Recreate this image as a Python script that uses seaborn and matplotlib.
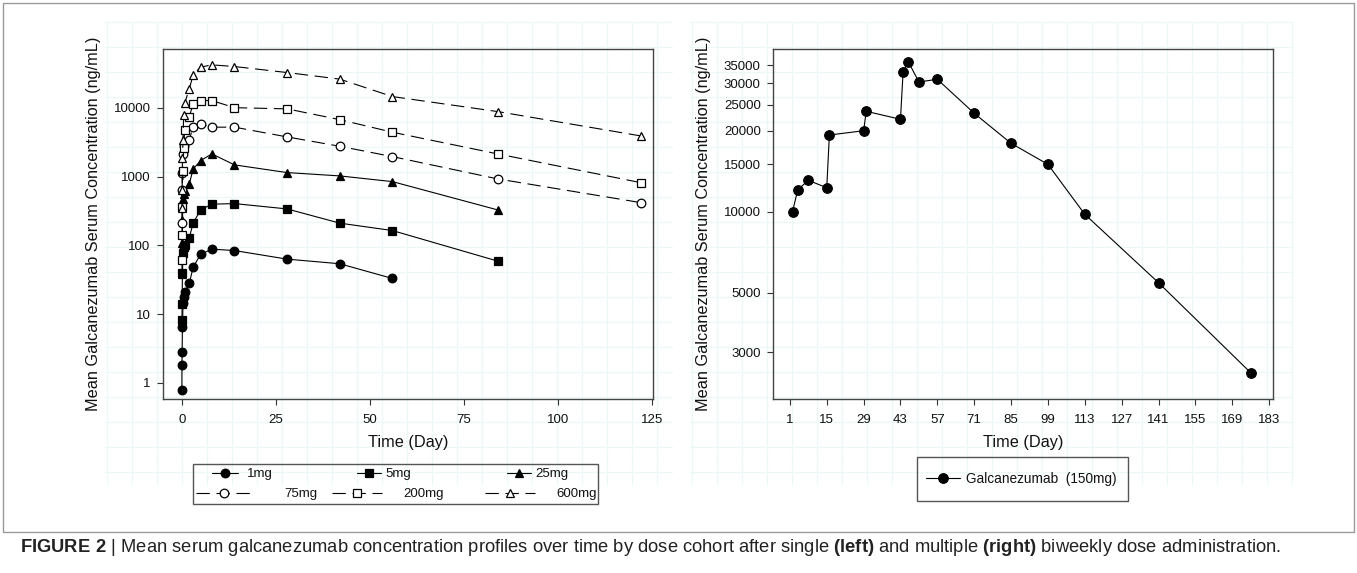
import matplotlib
matplotlib.use("Agg")
import matplotlib.pyplot as plt
from matplotlib.patches import Rectangle
from matplotlib.ticker import FixedLocator, FixedFormatter, NullLocator
import seaborn as sns
import numpy as np
import pandas as pd

sns.set_style("white")
plt.rcParams["font.family"] = ["Liberation Sans", "DejaVu Sans"]
plt.rcParams["mathtext.fontset"] = "custom"
plt.rcParams["mathtext.rm"] = "Liberation Sans"
plt.rcParams["mathtext.bf"] = "Liberation Sans:bold"

W, H = 1357, 573

# ---- data: single dose (left panel), days / ng/mL ----
t_1mg = [0.02, 0.04, 0.08, 0.17, 0.33, 0.5, 0.75, 2, 3, 5, 8, 14, 28, 42, 56]
c_1mg = [0.8, 1.8, 2.8, 6.5, 14.4, 17.6, 21, 28, 48, 74, 88, 84, 63, 54, 33]

t_5mg = [0.04, 0.08, 0.17, 0.33, 0.5, 0.75, 2, 3, 5, 8, 14, 28, 42, 56, 84]
c_5mg = [8.2, 14, 40, 77, 93, 101, 129, 210, 327, 396, 404, 338, 210, 164, 59]

t_25mg = [0.04, 0.08, 0.17, 0.33, 0.5, 0.75, 2, 3, 5, 8, 14, 28, 42, 56, 84]
c_25mg = [38, 107, 230, 468, 560, 620, 780, 1277, 1703, 2130, 1475, 1140, 1020, 843, 327]

t_75mg = [0.04, 0.08, 0.17, 0.33, 0.5, 2, 3, 5, 8, 14, 28, 42, 56, 84, 122]
c_75mg = [210, 640, 1120, 2100, 2800, 3400, 5310, 5750, 5210, 5210, 3760, 2750, 1946, 923, 418]

t_200mg = [0.04, 0.08, 0.17, 0.33, 0.5, 0.75, 2, 3, 5, 8, 14, 28, 42, 56, 84, 122]
c_200mg = [61, 142, 365, 1200, 2600, 4760, 7430, 11250, 12680, 12680, 10000, 9610, 6700, 4400, 2130, 815]

t_600mg = [0.04, 0.08, 0.17, 0.33, 0.5, 0.75, 2, 3, 5, 8, 14, 28, 42, 56, 84, 122]
c_600mg = [350, 640, 1850, 3400, 7860, 11600, 18600, 30000, 38800, 41900, 39600, 32400, 26000, 14500, 8780, 3890]

doses = ["1mg", "5mg", "25mg", "75mg", "200mg", "600mg"]
times = [t_1mg, t_5mg, t_25mg, t_75mg, t_200mg, t_600mg]
concs = [c_1mg, c_5mg, c_25mg, c_75mg, c_200mg, c_600mg]

# ---- data: multiple biweekly 150 mg (right panel) ----
day_150 = [2, 4, 8, 15, 16, 29, 30, 43, 44, 46, 50, 57, 71, 85, 99, 113, 141, 176]
conc_150 = [10000, 12070, 13080, 12280, 19280, 20000, 23620, 22060, 33130, 36070,
            30360, 31070, 23220, 17960, 15000, 9780, 5445, 2520]

left_xticks = [0, 25, 50, 75, 100, 125]
left_yticks = [1, 10, 100, 1000, 10000]
right_xticks = [1, 15, 29, 43, 57, 71, 85, 99, 113, 127, 141, 155, 169, 183]
right_yticks = [3000, 5000, 10000, 15000, 20000, 25000, 30000, 35000]

single = pd.concat(
    [pd.DataFrame({"dose": d, "day": t, "conc": c}) for d, t, c in zip(doses, times, concs)],
    ignore_index=True)
multi = pd.DataFrame({"day": day_150, "conc": conc_150})

styles = {
    "1mg": dict(marker="o", markerfacecolor="black", linestyle="-"),
    "5mg": dict(marker="s", markerfacecolor="black", linestyle="-"),
    "25mg": dict(marker="^", markerfacecolor="black", linestyle="-"),
    "75mg": dict(marker="o", markerfacecolor="white", linestyle=(0, (12, 6))),
    "200mg": dict(marker="s", markerfacecolor="white", linestyle=(0, (12, 6))),
    "600mg": dict(marker="^", markerfacecolor="white", linestyle=(0, (12, 6))),
}
msize = {"o": 6.2, "s": 5.6, "^": 6.4}

fig = plt.figure(figsize=(W / 100, H / 100), dpi=100)

# faint graph-paper background behind both panels
bg = fig.add_axes([0, 0, 1, 1], zorder=-5)
bg.set_xlim(0, W)
bg.set_ylim(H, 0)
bg.axis("off")
grid_c = "#eaf8f8"
for x0, x1 in [(105, 672), (690, 1292)]:
    for gx in np.arange(x0 + 1.7, x1, 25):
        bg.plot([gx, gx], [21.7, 484], color=grid_c, lw=0.9)
    for gy in np.arange(21.7, 485, 25):
        bg.plot([x0, x1], [gy, gy], color=grid_c, lw=0.9)


def px_axes(x0, y0, x1, y1):
    return fig.add_axes([x0 / W, 1 - y1 / H, (x1 - x0) / W, (y1 - y0) / H])


axL = px_axes(163, 49.3, 653, 399)
axR = px_axes(773.3, 49.3, 1273.3, 399)

handles = {}
axL.set_yscale("log")
for d in doses:
    st = styles[d]
    sns.lineplot(data=single[single["dose"] == d], x="day", y="conc", ax=axL,
                 color="black", linewidth=0.8, markersize=msize[st["marker"]],
                 markeredgecolor="black", markeredgewidth=0.9, errorbar=None, **st)
    handles[d] = axL.lines[-1]

axR.set_yscale("log")
sns.lineplot(data=multi, x="day", y="conc", ax=axR, color="black", linewidth=0.8,
             marker="o", markersize=7, markerfacecolor="black",
             markeredgecolor="black", errorbar=None)
h150 = axR.lines[-1]

axL.set_xlim(-5, 125.3)
axL.set_ylim(0.585, 70500)
axR.set_xlim(-5.3, 184.6)
axR.set_ylim(2012, 40160)

for ax, xt, yt in [(axL, left_xticks, left_yticks), (axR, right_xticks, right_yticks)]:
    ax.patch.set_alpha(0)
    ax.xaxis.set_major_locator(FixedLocator(xt))
    ax.xaxis.set_major_formatter(FixedFormatter([str(v) for v in xt]))
    ax.yaxis.set_major_locator(FixedLocator(yt))
    ax.yaxis.set_major_formatter(FixedFormatter([str(v) for v in yt]))
    ax.yaxis.set_minor_locator(NullLocator())
    ax.xaxis.set_minor_locator(NullLocator())
    ax.tick_params(axis="both", which="major", direction="out", length=4.5, width=0.8,
                   color="#333333", labelsize=9.5, labelcolor="#111111",
                   bottom=True, left=True)
    ax.tick_params(axis="y", pad=4.5)
    ax.tick_params(axis="x", pad=6.5)
    for sp in ax.spines.values():
        sp.set_visible(True)
        sp.set_color("#444444")
        sp.set_linewidth(1.0)
    ax.set_xlabel("Time (Day)", fontsize=11.7, labelpad=6, color="#111111")
    ax.set_ylabel("Mean Galcanezumab Serum Concentration (ng/mL)", fontsize=11.7,
                  labelpad=9, color="#111111")
    ax.grid(False)


# legends: one entry each, placed in pixel coordinates
def put_entry(handle, label, hx, hy, hlen, tx, fs=9.5):
    em = fs * 100 / 72
    leg = fig.legend([handle], [label], loc="center left",
                     bbox_to_anchor=(hx / W, 1 - hy / H), frameon=False,
                     handlelength=hlen / em, handletextpad=(tx - hx - hlen) / em,
                     borderpad=0, borderaxespad=0, fontsize=fs, numpoints=1,
                     labelcolor="#111111")
    return leg


put_entry(handles["1mg"], "1mg", 211.7, 474, 26, 247)
put_entry(handles["5mg"], "5mg", 356.7, 474, 24, 385)
put_entry(handles["25mg"], "25mg", 506.7, 474, 24, 535)
put_entry(handles["75mg"], "75mg", 196, 494, 55, 284)
put_entry(handles["200mg"], "200mg", 331.7, 494, 50, 403.3)
put_entry(handles["600mg"], "600mg", 485, 494, 50, 556.7)
put_entry(h150, "Galcanezumab  (150mg)", 926, 479, 34, 966, fs=9.8)

for x0, y0, x1, y1 in [(193, 464, 598, 504), (917, 457, 1128, 501)]:
    fig.patches.append(Rectangle((x0 / W, 1 - y1 / H), (x1 - x0) / W, (y1 - y0) / H,
                                 transform=fig.transFigure, fill=False,
                                 edgecolor="#555555", lw=1.0))

# outer frame and caption
fig.patches.append(Rectangle((3 / W, 1 - 532 / H), 1351 / W, 529 / H,
                             transform=fig.transFigure, fill=False,
                             edgecolor="#9a9a9a", lw=1.0))
fig.text(20 / W, 1 - 548 / H,
         r"$\mathbf{FIGURE\ 2}$ | Mean serum galcanezumab concentration profiles over time "
         r"by dose cohort after single $\mathbf{(left)}$ and multiple $\mathbf{(right)}$ "
         r"biweekly dose administration.",
         fontsize=13.2, color="#222222", va="center", ha="left")

fig.savefig("out.png", dpi=100)
